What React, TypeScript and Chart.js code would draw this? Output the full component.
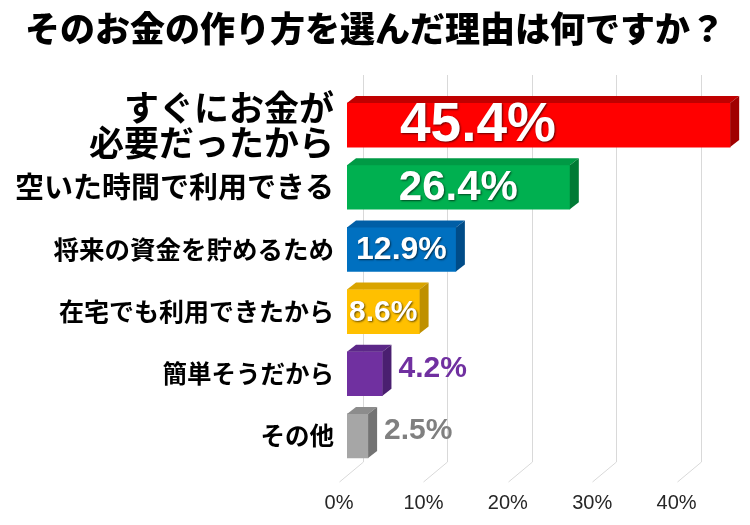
import React, { useEffect, useRef } from "react";
import { Chart, registerables } from "chart.js";

Chart.register(...registerables);

const titleText = "そのお金の作り方を選んだ理由は何ですか？";
const categories: (string | string[])[] = [
  ["すぐにお金が", "必要だったから"],
  "空いた時間で利用できる",
  "将来の資金を貯めるため",
  "在宅でも利用できたから",
  "簡単そうだから",
  "その他",
];
const values = [45.4, 26.4, 12.9, 8.6, 4.2, 2.5];
const xTickValues = [0, 10, 20, 30, 40];

// styles
const frontColors = ["#FF0000", "#00B050", "#0070C0", "#FFC000", "#7030A0", "#A6A6A6"];
const topColors = ["#C00000", "#009A45", "#005EA6", "#D9A400", "#5C2888", "#8C8C8C"];
const sideColors = ["#A00000", "#007A35", "#004C88", "#BF9000", "#4A1F70", "#737373"];
const catFontSizes = [35, 29, 25.5, 25, 24.5, 24.5];
const valueFontSizes = [55, 42, 32, 30, 30, 30];
const valueInside = [true, true, true, true, false, false];
const valueOutsideColors = ["", "", "", "", "#7030A0", "#808080"];

const DX = 9;
const DY = -7;
const JP = '"Noto Sans CJK JP", "Noto Sans", sans-serif';
const NUM = '"Liberation Sans", Arial, sans-serif';

const gridPlugin = {
  id: "grid3d",
  beforeDatasetsDraw(chart: any) {
    const ctx = chart.ctx;
    const xs = chart.scales.x;
    const a = chart.chartArea;
    ctx.save();
    ctx.strokeStyle = "#D9D9D9";
    ctx.lineWidth = 1;
    xTickValues.forEach((v) => {
      const p = Math.round(xs.getPixelForValue(v)) + 0.5;
      ctx.beginPath();
      ctx.moveTo(p + 16, a.top - 19);
      ctx.lineTo(p + 16, a.bottom - 5);
      ctx.lineTo(p - 8, a.bottom + 15);
      ctx.stroke();
    });
    ctx.restore();
  },
};

const barsPlugin = {
  id: "bars3d",
  afterDatasetsDraw(chart: any) {
    const ctx = chart.ctx;
    const meta = chart.getDatasetMeta(0);
    ctx.save();
    meta.data.forEach((bar: any, i: number) => {
      const left = bar.base;
      const right = bar.x;
      const top = bar.y - bar.height / 2;
      const bottom = bar.y + bar.height / 2;
      // top face
      ctx.fillStyle = topColors[i];
      ctx.beginPath();
      ctx.moveTo(left, top);
      ctx.lineTo(left + DX, top + DY);
      ctx.lineTo(right + DX, top + DY);
      ctx.lineTo(right, top);
      ctx.closePath();
      ctx.fill();
      // side face
      ctx.fillStyle = sideColors[i];
      ctx.beginPath();
      ctx.moveTo(right, top);
      ctx.lineTo(right + DX, top + DY);
      ctx.lineTo(right + DX, bottom + DY);
      ctx.lineTo(right, bottom);
      ctx.closePath();
      ctx.fill();

      // value label
      const text = values[i].toFixed(1) + "%";
      ctx.font = `bold ${valueFontSizes[i]}px ${NUM}`;
      ctx.textBaseline = "middle";
      if (valueInside[i]) {
        const cx = Math.min((left + right) / 2, left + 131);
        ctx.textAlign = "center";
        ctx.fillStyle = "#FFFFFF";
        ctx.shadowColor = "rgba(0,0,0,0.6)";
        ctx.shadowBlur = 2;
        ctx.shadowOffsetX = 1;
        ctx.shadowOffsetY = 1;
        ctx.fillText(text, cx, bar.y + 1);
        ctx.shadowColor = "transparent";
        ctx.shadowBlur = 0;
        ctx.shadowOffsetX = 0;
        ctx.shadowOffsetY = 0;
      } else {
        ctx.textAlign = "left";
        ctx.fillStyle = valueOutsideColors[i];
        ctx.fillText(text, right + DX + 7, bar.y - 5);
      }
    });
    ctx.restore();
  },
};

export default function App() {
  const canvasRef = useRef<HTMLCanvasElement | null>(null);

  useEffect(() => {
    if (!canvasRef.current) return;
    const chart = new Chart(canvasRef.current, {
      type: "bar",
      data: {
        labels: categories,
        datasets: [
          {
            data: values,
            backgroundColor: frontColors,
            borderWidth: 0,
            barThickness: 44,
          },
        ],
      },
      options: {
        indexAxis: "y",
        animation: false,
        responsive: false,
        maintainAspectRatio: false,
        layout: { padding: { left: 0, right: 0, top: 0, bottom: 0 } },
        plugins: {
          legend: { display: false },
          tooltip: { enabled: false },
          title: {
            display: true,
            text: titleText,
            color: "#000000",
            font: { family: JP, size: 35, weight: "900" as any },
            padding: { top: 8, bottom: 44 },
          },
        },
        scales: {
          x: {
            min: 0,
            max: 47.75,
            grid: { display: false, drawTicks: false },
            border: { display: false },
            afterFit(scale: any) {
              scale.height = 58;
            },
            afterBuildTicks(scale: any) {
              scale.ticks = xTickValues.map((v) => ({ value: v }));
            },
            ticks: {
              includeBounds: false,
              autoSkip: false,
              padding: 24,
              labelOffset: -8,
              color: "#262626",
              font: { family: NUM, size: 20 },
              callback: (v: any) => v + "%",
            },
          },
          y: {
            grid: { display: false, drawTicks: false },
            border: { display: false },
            afterFit(scale: any) {
              scale.width = 347;
            },
            ticks: {
              autoSkip: false,
              padding: 13,
              color: "#000000",
              font: (c: any) => ({
                family: JP,
                size: catFontSizes[c.index] ?? 25,
                weight: "bold" as any,
                lineHeight: 1.0,
              }),
            },
          },
        },
      },
      plugins: [gridPlugin, barsPlugin],
    });
    return () => chart.destroy();
  }, []);

  return (
    <div style={{ position: "fixed", left: 0, top: 0, width: 750, height: 525, background: "#fff" }}>
      <canvas ref={canvasRef} width={750} height={525} style={{ display: "block" }} />
    </div>
  );
}
